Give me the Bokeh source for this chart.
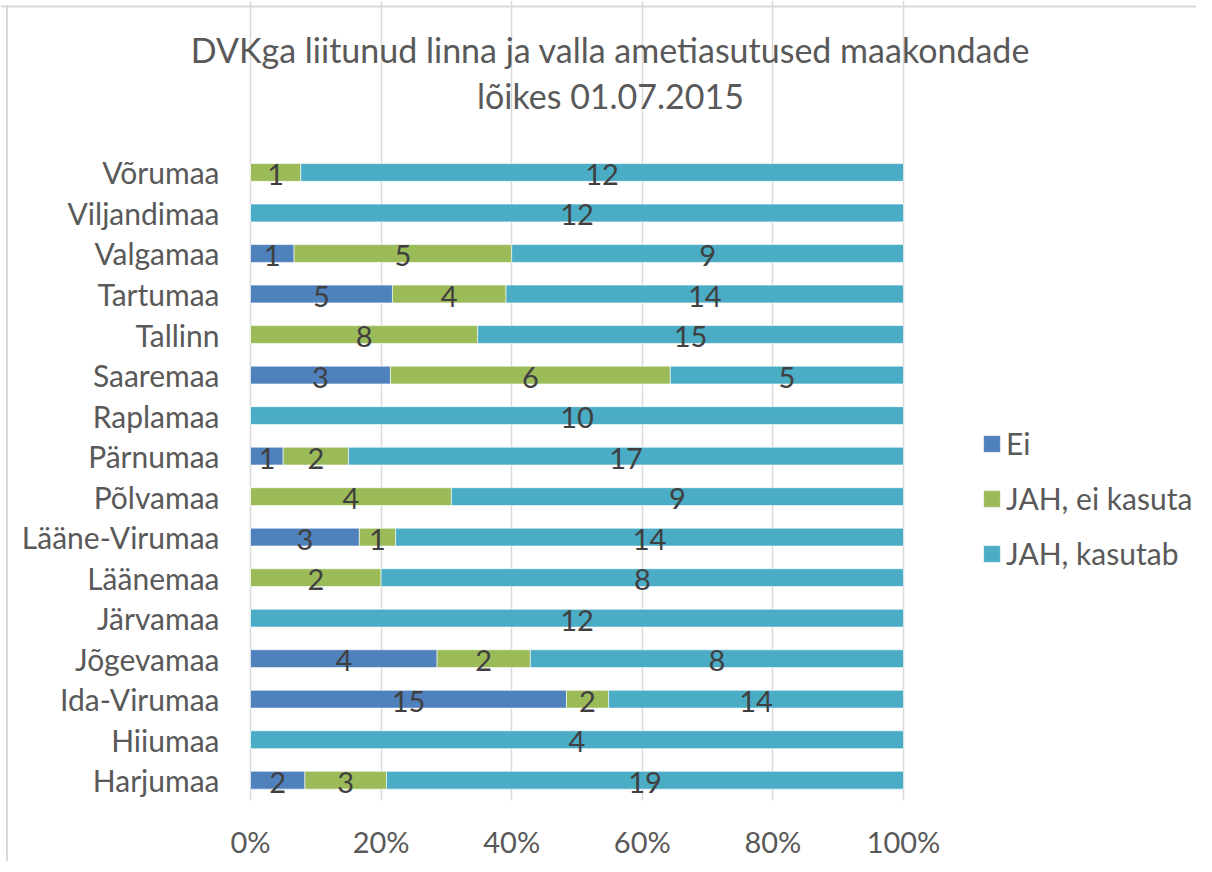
from bokeh.plotting import figure
from bokeh.models import (ColumnDataSource, Range1d, FixedTicker,
                          NumeralTickFormatter, Legend, LegendItem, Label, Span)
from bokeh.core.properties import value
from bokeh.embed import file_html
from bokeh.resources import INLINE
import numpy as np

# ---- data (bottom to top as drawn) ----
counties = ["Harjumaa", "Hiiumaa", "Ida-Virumaa", "Jõgevamaa", "Järvamaa", "Läänemaa",
            "Lääne-Virumaa", "Põlvamaa", "Pärnumaa", "Raplamaa", "Saaremaa", "Tallinn",
            "Tartumaa", "Valgamaa", "Viljandimaa", "Võrumaa"]
ei =            [2, 0, 15, 4, 0, 0, 3, 0, 1, 0, 3, 0, 5, 1, 0, 0]
jah_ei_kasuta = [3, 0, 2, 2, 0, 2, 1, 4, 2, 0, 6, 8, 4, 5, 0, 1]
jah_kasutab =   [19, 4, 14, 8, 12, 8, 14, 9, 17, 10, 5, 15, 14, 9, 12, 12]
series_names = ["Ei", "JAH, ei kasuta", "JAH, kasutab"]
colors = ["#4f81bd", "#9bbb59", "#4bacc6"]
ticks = [0, 0.2, 0.4, 0.6, 0.8, 1.0]
title_text = "DVKga liitunud linna ja valla ametiasutused maakondade\nlõikes 01.07.2015"

FONT = "Lato"
TXT = "#595959"

vals = np.array([ei, jah_ei_kasuta, jah_kasutab], dtype=float)
tot = vals.sum(axis=0)
frac = vals / tot
cum = np.cumsum(frac, axis=0)
left = cum - frac
ypos = list(range(len(counties)))

# layout geometry (pixels)
FW, FH = 1196, 800        # frame covers the whole canvas width, axis labels below
X0 = 250                  # pixel position of 0 %
PX100 = 653               # pixel width of 0..100 %
PITCH = 40.53             # pixel distance between bars

p = figure(frame_width=FW, frame_height=FH, output_backend="svg", toolbar_location=None,
           x_range=Range1d(-X0 / PX100, (FW - X0) / PX100),
           y_range=Range1d(-0.5, 15 + 172 / PITCH),
           min_border_left=0, min_border_right=0, min_border_top=0, min_border_bottom=0,
           title=None)
p.outline_line_color = None
p.background_fill_color = None
p.border_fill_color = None
# light chart-area border (left edge runs the full height)
p.styles = {"background": "linear-gradient(#d9d9d9,#d9d9d9) 6px 5px / 2px 100% no-repeat"}
p.add_layout(Span(dimension="width", location=FH - 6, location_units="screen",
                  line_color="#d9d9d9", line_width=2))

renderers = []
for i in range(3):
    src = ColumnDataSource(dict(y=ypos, left=left[i], right=cum[i],
                                mid=(left[i] + cum[i]) / 2,
                                lab=[str(int(v)) if v > 0 else "" for v in vals[i]]))
    r = p.hbar(y="y", left="left", right="right", height=0.44, source=src,
               fill_color=colors[i], line_color="white", line_width=0.6)
    renderers.append(r)
    p.text(x="mid", y="y", text="lab", source=src, text_align="center",
           text_baseline="middle", y_offset=2, text_font=value(FONT),
           text_font_size="29px", text_color="#404040")

p.xaxis.ticker = FixedTicker(ticks=ticks)
p.xaxis.formatter = NumeralTickFormatter(format="0%")
p.yaxis.ticker = FixedTicker(ticks=ypos)
p.yaxis.major_label_overrides = {i: c for i, c in zip(ypos, counties)}
p.yaxis.fixed_location = 0
for ax in (p.xaxis[0], p.yaxis[0]):
    ax.axis_line_color = None
    ax.major_tick_line_color = None
    ax.minor_tick_line_color = None
    ax.major_tick_out = 0
    ax.major_tick_in = 0
    ax.major_label_text_font = FONT
    ax.major_label_text_color = TXT
p.xaxis.major_label_text_font_size = "29px"
p.yaxis.major_label_text_font_size = "30px"
p.xaxis.major_label_standoff = 23
p.yaxis.major_label_standoff = 31
p.ygrid.grid_line_color = None
p.xgrid.grid_line_color = "#d9d9d9"
p.xgrid.grid_line_width = 1.5

legend = Legend(items=[LegendItem(label=series_names[i], renderers=[renderers[i]]) for i in range(3)],
                location=(981, 229), orientation="vertical",
                glyph_width=21, glyph_height=21, label_height=34, spacing=19,
                label_standoff=4, padding=0, margin=0,
                label_text_font=FONT, label_text_font_size="30px", label_text_color=TXT,
                border_line_color=None, background_fill_alpha=0)
p.add_layout(legend, "center")

p.add_layout(Label(x=610, y=FH - 72, x_units="screen", y_units="screen",
                   text=title_text, text_align="center", text_baseline="middle",
                   text_font=FONT, text_font_size="34px", text_color=TXT,
                   text_line_height=1.13))

open("out.html", "w").write(file_html(p, INLINE))
